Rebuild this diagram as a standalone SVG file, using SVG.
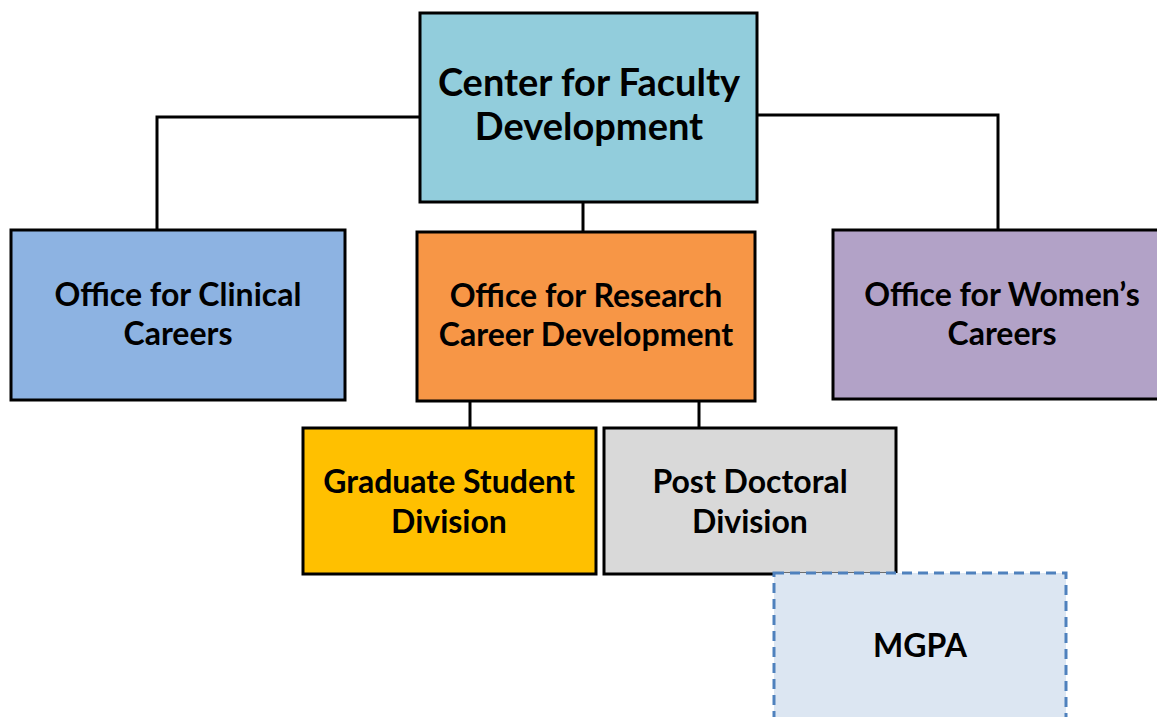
<svg xmlns="http://www.w3.org/2000/svg" width="1157" height="717" viewBox="0 0 1157 717">
<style>
.box{stroke:#000;stroke-width:3}
.t{font-family:Lato,"Open Sans",sans-serif;font-weight:bold;fill:#000;text-anchor:middle}
.big{font-size:38px}
.mid{font-size:32px}
.conn{fill:none;stroke:#000;stroke-width:3}
</style>
<rect width="1157" height="717" fill="#fff"/>
<g id="connectors">
<path class="conn" d="M420 117 H157 V230"/>
<path class="conn" d="M757 115 H998 V230"/>
<path class="conn" d="M583 202 V232"/>
<path class="conn" d="M470 401 V428"/>
<path class="conn" d="M699 401 V428"/>
</g>
<g id="cfd">
<rect class="box" x="420" y="13" width="337" height="189" fill="#92CDDC"/>
<text class="t big" x="589" y="96">Center for Faculty</text>
<text class="t big" x="589" y="140">Development</text>
</g>
<g id="occ">
<rect class="box" x="11" y="230" width="334" height="170" fill="#8DB3E2"/>
<text class="t mid" x="178" y="306">Office for Clinical</text>
<text class="t mid" x="178" y="345">Careers</text>
</g>
<g id="orcd">
<rect class="box" x="417" y="232" width="338" height="169" fill="#F79646"/>
<text class="t mid" x="586" y="307">Office for Research</text>
<text class="t mid" x="586" y="346">Career Development</text>
</g>
<g id="owc">
<rect class="box" x="833" y="230" width="330" height="169" fill="#B2A2C7"/>
<text class="t mid" x="1002" y="306">Office for Women’s</text>
<text class="t mid" x="1002" y="345">Careers</text>
</g>
<g id="gsd">
<rect class="box" x="303" y="428" width="293" height="146" fill="#FFC000"/>
<text class="t mid" x="449" y="493">Graduate Student</text>
<text class="t mid" x="449" y="533">Division</text>
</g>
<g id="pdd">
<rect class="box" x="604" y="428" width="292" height="146" fill="#D9D9D9"/>
<text class="t mid" x="750" y="493">Post Doctoral</text>
<text class="t mid" x="750" y="533">Division</text>
</g>
<g id="mgpa">
<rect x="774" y="573" width="292" height="150" fill="#DCE6F2" stroke="#4F81BD" stroke-width="3" stroke-dasharray="10,6"/>
<text class="t mid" x="920" y="657">MGPA</text>
</g>
</svg>
